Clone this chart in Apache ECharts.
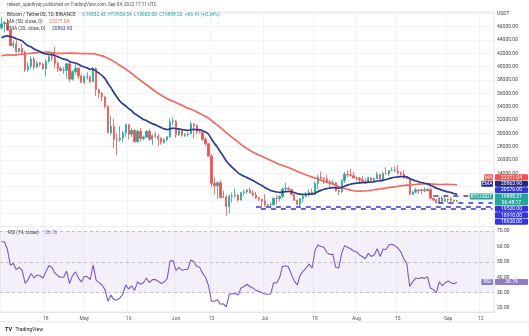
<!DOCTYPE html>
<html><head><meta charset="utf-8">
<script src="https://cdn.jsdelivr.net/npm/echarts@6/dist/echarts.min.js"></script>
<style>html,body{margin:0;padding:0;background:#fff}#c{width:529px;height:336px}</style>
</head><body><div id="c"></div>
<script>
const dates = [
'2022-04-03','2022-04-04','2022-04-05','2022-04-06','2022-04-07','2022-04-08','2022-04-09','2022-04-10','2022-04-11','2022-04-12','2022-04-13','2022-04-14','2022-04-15','2022-04-16','2022-04-17','2022-04-18','2022-04-19','2022-04-20','2022-04-21','2022-04-22','2022-04-23','2022-04-24','2022-04-25','2022-04-26','2022-04-27','2022-04-28','2022-04-29','2022-04-30',
'2022-05-01','2022-05-02','2022-05-03','2022-05-04','2022-05-05','2022-05-06','2022-05-07','2022-05-08','2022-05-09','2022-05-10','2022-05-11','2022-05-12','2022-05-13','2022-05-14','2022-05-15','2022-05-16','2022-05-17','2022-05-18','2022-05-19','2022-05-20','2022-05-21','2022-05-22','2022-05-23','2022-05-24','2022-05-25','2022-05-26','2022-05-27','2022-05-28','2022-05-29','2022-05-30','2022-05-31',
'2022-06-01','2022-06-02','2022-06-03','2022-06-04','2022-06-05','2022-06-06','2022-06-07','2022-06-08','2022-06-09','2022-06-10','2022-06-11','2022-06-12','2022-06-13','2022-06-14','2022-06-15','2022-06-16','2022-06-17','2022-06-18','2022-06-19','2022-06-20','2022-06-21','2022-06-22','2022-06-23','2022-06-24','2022-06-25','2022-06-26','2022-06-27','2022-06-28','2022-06-29','2022-06-30',
'2022-07-01','2022-07-02','2022-07-03','2022-07-04','2022-07-05','2022-07-06','2022-07-07','2022-07-08','2022-07-09','2022-07-10','2022-07-11','2022-07-12','2022-07-13','2022-07-14','2022-07-15','2022-07-16','2022-07-17','2022-07-18','2022-07-19','2022-07-20','2022-07-21','2022-07-22','2022-07-23','2022-07-24','2022-07-25','2022-07-26','2022-07-27','2022-07-28','2022-07-29','2022-07-30','2022-07-31',
'2022-08-01','2022-08-02','2022-08-03','2022-08-04','2022-08-05','2022-08-06','2022-08-07','2022-08-08','2022-08-09','2022-08-10','2022-08-11','2022-08-12','2022-08-13','2022-08-14','2022-08-15','2022-08-16','2022-08-17','2022-08-18','2022-08-19','2022-08-20','2022-08-21','2022-08-22','2022-08-23','2022-08-24','2022-08-25','2022-08-26','2022-08-27','2022-08-28','2022-08-29','2022-08-30','2022-08-31',
'2022-09-01','2022-09-02','2022-09-03','2022-09-04','2022-09-05','2022-09-06','2022-09-07','2022-09-08','2022-09-09','2022-09-10','2022-09-11','2022-09-12','2022-09-13','2022-09-14','2022-09-15','2022-09-16'];

const tickDates = ['2022-04-18','2022-05-01','2022-05-16','2022-06-01','2022-06-13','2022-07-01','2022-07-18','2022-08-01','2022-08-15','2022-09-01','2022-09-12'];
const tickTexts = ['18','May','16','Jun','13','Jul','18','Aug','15','Sep','12'];

const opens = [
45811,46407,46580,45497,43170,43444,42252,42753,42158,39530,40074,41147,39942,40551,40378,39678,40801,41493,41358,40480,39709,39441,39450,40426,38112,39235,39742,38596,
37630,38468,38525,37728,39690,36552,36013,35472,34039,30076,31017,29103,29029,29287,30075,31305,29862,30425,28715,30319,29201,29445,30293,29110,29655,29542,29201,28629,29031,29468,31734,
31802,29799,30467,29704,29833,29906,31371,31125,30205,30110,29091,28424,26574,22487,22136,22583,20401,20468,19017,20553,20599,20710,19987,21085,21231,21502,21027,20735,20280,20105,
19785,19269,19243,19297,20231,20191,20548,21637,21731,21592,20861,19970,19329,20212,20569,20836,21190,20779,22485,23389,23231,23164,22714,22465,22609,21361,21239,22930,23843,23774,23643,
23293,23269,22988,22818,22622,23312,22954,23175,23810,23149,23954,23934,24403,24441,24305,24094,23854,23342,23191,20834,21140,21516,21400,21529,21368,21560,20241,20037,19555,20285,19811,
20050,20131,19951,19832];
const closes = [
46407,46580,45497,43170,43444,42252,42753,42158,39530,40074,41147,39942,40551,40378,39678,40801,41493,41358,40480,39709,39441,39450,40426,38112,39235,39742,38596,37630,
38468,38525,37728,39690,36552,36013,35472,34039,30076,31017,29103,29029,29287,30075,31305,29862,30425,28715,30319,29201,29445,30293,29110,29655,29542,29201,28629,29031,29468,31734,31802,
29799,30467,29704,29833,29906,31371,31125,30205,30110,29091,28424,26574,22487,22136,22583,20401,20468,19017,20553,20599,20710,19987,21085,21231,21502,21027,20735,20280,20105,19785,
19269,19243,19297,20231,20191,20548,21637,21731,21592,20861,19970,19329,20212,20569,20836,21190,20779,22485,23389,23231,23164,22714,22465,22609,21361,21239,22930,23843,23774,23643,23293,
23269,22988,22818,22622,23312,22954,23175,23810,23149,23954,23934,24403,24441,24305,24094,23854,23342,23191,20834,21140,21516,21400,21529,21368,21560,20241,20037,19555,20285,19811,20050,
20131,19951,19832,19898];
const highs = [
47444,46890,47200,45507,43900,43970,42800,43410,42414,40699,41561,41500,40870,40709,40595,41116,41760,42199,42976,40795,39980,39940,40617,40797,39474,40372,39925,38795,
38675,39167,38651,39980,39845,36675,36146,35510,34243,32658,32162,30032,31083,30343,31460,31333,30788,30666,30545,30777,29656,30487,30670,29835,30223,29883,29397,29250,29531,32222,32399,
31982,30690,30699,29999,30168,31765,31557,31339,30700,30392,29440,28544,26895,23363,22800,22980,21365,20792,20815,21090,21723,20880,21200,21520,21614,21868,21520,21200,20432,20141,
20876,19400,19647,20354,20758,20675,21839,22527,21956,21607,20868,20059,20260,20900,21200,21588,21684,22777,23800,24276,23442,23757,22977,23014,22663,21561,23112,24200,24442,24668,24194,
23510,23466,23647,23225,23472,23354,23402,24245,23926,24226,24918,24456,24890,25047,25211,24247,24446,23600,23208,21382,21800,21548,21684,21900,21819,21886,20340,20150,20433,20580,20490,
20198,20445,20056,19957];
const lows = [
45530,45118,45353,43121,42727,42107,42125,41868,39200,39254,39588,39551,39766,39992,39546,38536,40571,40820,39751,39177,39285,38929,38200,37702,37881,38881,38175,37578,
37386,38052,37517,37670,35571,35258,34785,33713,30033,29730,27785,26700,28751,28630,29481,29087,29450,28654,28693,28730,28947,29255,28866,28260,29294,28019,28282,28450,28843,29299,31200,
29301,29594,29500,29454,29500,29879,29218,29843,29944,28850,28100,26560,21925,20846,20111,20232,20246,17622,17960,19637,20348,19770,19890,20711,20906,20960,20500,20164,19846,18626,
18975,18977,18781,19055,19304,19762,20240,21190,21348,20655,19880,19239,18910,19616,20383,20478,20750,20762,21582,22906,22341,22500,21934,22258,21250,20706,21042,22581,23414,23503,23227,
22850,22664,22681,22400,22585,22909,22844,23154,22885,22664,23852,23580,24291,24265,23773,23671,23180,23107,20783,20761,21069,20890,20890,21145,21310,20107,19800,19600,19530,19540,19800,
19565,19754,19652,19600];

const ema20 = [
44320,44540,44630,44490,44390,44190,44050,43870,43460,43140,42950,42660,42460,42260,42010,41900,41860,41810,41680,41500,41300,41130,41060,40780,40630,40550,40360,40100,
39950,39810,39610,39620,39330,39010,38670,38230,37460,36850,36110,35440,34850,34400,34100,33700,33390,32940,32690,32360,32080,31910,31640,31450,31270,31070,30840,30670,30550,30670,30770,
30680,30660,30570,30500,30440,30530,30590,30550,30510,30380,30190,29850,29150,28480,27920,27200,26560,25840,25340,24890,24490,24060,23780,23540,23350,23130,22900,22650,22410,22160,
21880,21630,21410,21300,21190,21130,21180,21230,21270,21230,21110,20940,20870,20840,20840,20870,20860,21020,21250,21440,21600,21710,21780,21860,21810,21760,21870,22060,22220,22360,22450,
22530,22570,22590,22600,22660,22690,22740,22840,22870,22970,23060,23190,23310,23400,23470,23500,23490,23460,23210,23010,22870,22730,22620,22500,22410,22200,22000,21770,21620,21450,21320,
21210,21090,20970,20864];
const ma50 = [
41620,41710,41770,41740,41730,41770,41820,41860,41890,41950,42010,42060,42100,42130,42140,42200,42170,42110,42040,41980,41990,41990,42030,42030,42040,42000,41980,41960,
41950,41970,41930,41940,41850,41750,41620,41460,41230,41030,40770,40490,40200,39910,39650,39310,38980,38600,38270,37940,37600,37290,36950,36610,36290,36010,35710,35450,35180,34980,34820,
34620,34400,34200,33980,33770,33610,33410,33190,32960,32740,32510,32250,31910,31550,31240,30860,30480,30080,29740,29380,29030,28670,28300,27990,27700,27420,27150,26950,26740,26550,
26350,26150,25940,25720,25520,25320,25180,25010,24860,24690,24480,24290,24100,23920,23750,23600,23440,23300,23130,22960,22830,22670,22530,22380,22210,22010,21840,21720,21590,21480,21380,
21310,21320,21340,21340,21390,21440,21530,21590,21640,21710,21790,21850,21920,21970,22030,22100,22160,22220,22240,22280,22320,22370,22390,22420,22440,22410,22370,22330,22320,22320,22330,
22330,22320,22300,22271];
const rsi14 = [
63,63,58,48,49,45,46.5,44.5,36,38.5,42.5,39.5,41.5,41,39.5,43.5,47.5,46.5,43,41,40,40,44,36,41,43.5,39.5,37,
40.5,40.5,38.5,48,38,36.5,35,32,24.5,28.5,25.5,25.3,26.5,29,35,32.5,34.5,31.5,37,35.5,36.5,39.5,36.5,38.5,38.5,37.5,36,37,39,50.5,50.8,
44.5,46.5,44.5,45,45.2,51.2,50.3,47,46.5,42.5,40,34.5,24.5,24.5,25.5,22.5,22.8,20.9,29,29.3,29.5,28.5,33,34,35.5,34,33,31.5,31,30,
29.2,29,29.3,36.5,36.3,39.5,47,47.5,46.8,42,37.5,35,41.5,44,46,48.5,46,57.5,61,60,59.5,56,54.8,55,46.5,46,55.5,60.5,59.5,58.5,57,
56.5,54.5,53.5,52,55.5,53.5,54.5,58.5,53.5,58.3,58,61,61.4,60.5,59,56.5,52,49,34,37,39.5,39,39.8,39.3,40.4,33,32,30,37,34.5,36.5,
37.6,36.5,35.8,36.76];

const levelPrices = [20576, 19520, 18910, 18626];
const levelStarts = ['2022-08-27', '2022-08-27', '2022-06-28', '2022-06-28'];
const levelOffsets = [0, 5, 0, 5];

const FONT = 'Roboto, "Liberation Sans", sans-serif';
const UP = '#26a69a', DOWN = '#ef5350', MA_C = '#ee6b61', EMA_C = '#2c3e8f', LVL_C = '#3434d8', RSI_C = '#7e57c2';
const tickSet = new Set(tickDates);
const tickFn = (i, v) => tickSet.has(v);

const chart = echarts.init(document.getElementById('c'), null, {renderer: 'canvas'});
const lastDate = dates[dates.length - 1];

const option = {
  animation: false,
  backgroundColor: '#ffffff',
  textStyle: {fontFamily: FONT},
  grid: [
    {left: 0, right: 35, top: 12, height: 214.6, show: true, borderColor: '#d6d9e0', borderWidth: 0.6},
    {left: 0, right: 35, top: 226.6, height: 85.4, show: true, borderColor: '#d6d9e0', borderWidth: 0.6}
  ],
  xAxis: [
    {type: 'category', gridIndex: 0, data: dates, boundaryGap: true,
     axisLine: {show: false}, axisTick: {show: false}, axisLabel: {show: false},
     splitLine: {show: true, interval: tickFn, lineStyle: {color: '#eef0f4', width: 0.8}}},
    {type: 'category', gridIndex: 1, data: dates, boundaryGap: true,
     axisLine: {show: true, lineStyle: {color: '#d6d9e0', width: 0.6}}, axisTick: {show: false},
     axisLabel: {show: true, interval: tickFn, formatter: v => tickTexts[tickDates.indexOf(v)], color: '#555', fontSize: 5, margin: 4, fontFamily: FONT},
     splitLine: {show: true, interval: tickFn, lineStyle: {color: '#eef0f4', width: 0.8}}}
  ],
  yAxis: [
    {type: 'value', gridIndex: 0, position: 'right', min: 16000, max: 48200, interval: 2000, scale: true,
     axisLine: {show: false}, axisTick: {show: false},
     axisLabel: {color: '#444', fontSize: 5, margin: 3, fontFamily: FONT, showMinLabel: false, showMaxLabel: false,
       formatter: v => v === 48000 ? 'USDT' : v.toFixed(2)},
     splitLine: {show: true, lineStyle: {color: '#eef0f4', width: 0.8}}},
    {type: 'value', gridIndex: 1, position: 'right', min: 17.5, max: 72.85, splitNumber: 5,
     axisLine: {show: false}, axisTick: {show: false},
     axisLabel: {color: '#444', fontSize: 5, margin: 3, fontFamily: FONT, showMinLabel: false, showMaxLabel: false,
       formatter: v => (Math.abs(v % 10) < 1e-6 ? v.toFixed(2) : '')},
     splitLine: {show: false}}
  ],
  series: [
    {type: 'candlestick', xAxisIndex: 0, yAxisIndex: 0, barWidth: 1.8,
     data: opens.map((o, i) => [o, closes[i], lows[i], highs[i]]),
     itemStyle: {color: UP, color0: DOWN, borderColor: UP, borderColor0: DOWN, borderWidth: 0.8},
     markLine: {silent: true, symbol: 'none', animation: false, label: {show: false},
       data: levelPrices.map((p, i) => [
         {coord: [levelStarts[i], p], lineStyle: {color: LVL_C, width: 1.6, type: [5, 5], dashOffset: levelOffsets[i]}},
         {coord: [lastDate, p]}
       ])}},
    {type: 'line', name: 'MA', xAxisIndex: 0, yAxisIndex: 0, data: ma50, symbol: 'none', smooth: 0.2,
     lineStyle: {color: MA_C, width: 1.7}, z: 3},
    {type: 'line', name: 'EMA', xAxisIndex: 0, yAxisIndex: 0, data: ema20, symbol: 'none', smooth: 0.2,
     lineStyle: {color: EMA_C, width: 1.7}, z: 4},
    {type: 'line', name: 'RSI', xAxisIndex: 1, yAxisIndex: 1, data: rsi14, symbol: 'none',
     lineStyle: {color: RSI_C, width: 1.1},
     markArea: {silent: true, itemStyle: {color: 'rgba(126,87,194,0.09)'}, data: [[{yAxis: 70}, {yAxis: 30}]]},
     markLine: {silent: true, symbol: 'none', label: {show: false},
       lineStyle: {color: '#a5a8b3', width: 0.7, type: [3, 3]},
       data: [{yAxis: 70}, {yAxis: 50}, {yAxis: 30}]}}
  ]
};
chart.setOption(option);

// price tags on the right scale
const tagDefs = [
  {name: 'MA', value: '22271.04', price: 22271.04, color: '#ef5350'},
  {name: 'EMA', value: '20863.90', price: 20863.90, color: '#1f2a78'},
  {value: '20576.00', price: 20576, color: LVL_C},
  {name: 'BTCUSDT', value: '19898.31', sub: '06:48:17', price: 19898.31, color: UP},
  {value: '19520.00', price: 19520, color: LVL_C},
  {value: '18910.00', price: 18910, color: LVL_C},
  {value: '18626.00', price: 18626, color: LVL_C}
];
const items = tagDefs.map(t => ({t, c: chart.convertToPixel({yAxisIndex: 0}, t.price), h: t.sub ? 12.4 : 6.4, off: 3.2}));
items.sort((a, b) => a.c - b.c);
let blocks = [];
for (const it of items) {
  blocks.push({items: [it], h: it.h, top: it.c - it.off});
  while (blocks.length > 1) {
    const p = blocks[blocks.length - 2], q = blocks[blocks.length - 1];
    if (p.top + p.h > q.top) {
      const m = {items: p.items.concat(q.items), h: p.h + q.h};
      let acc = 0, o = 0;
      for (const x of m.items) { acc += x.c - (o + x.off); o += x.h; }
      m.top = acc / m.items.length;
      blocks.splice(-2, 2, m);
    } else break;
  }
}
for (const b of blocks) { let o = b.top; for (const x of b.items) { x.top = o; o += x.h; } }

const gfx = [];
const AX = 495;
function addTag(top, h, color, value, sub, name) {
  gfx.push({type: 'rect', shape: {x: AX, y: top, width: 33, height: h - 0.5, r: 0.8}, style: {fill: color}, z: 100});
  gfx.push({type: 'text', x: AX + 16.5, y: top + 3.1, style: {text: value, fill: '#fff', fontSize: 5, fontFamily: FONT, align: 'center', verticalAlign: 'middle'}, z: 101});
  if (sub) gfx.push({type: 'text', x: AX + 16.5, y: top + 9.1, style: {text: sub, fill: '#fff', fontSize: 5, fontFamily: FONT, align: 'center', verticalAlign: 'middle'}, z: 101});
  if (name) {
    const w = name.length * 2.9 + 3;
    gfx.push({type: 'rect', shape: {x: AX - 2 - w, y: top, width: w, height: 5.9, r: 0.8}, style: {fill: color}, z: 100});
    gfx.push({type: 'text', x: AX - 2 - w / 2, y: top + 3.1, style: {text: name, fill: '#fff', fontSize: 5, fontFamily: FONT, align: 'center', verticalAlign: 'middle'}, z: 101});
  }
}
for (const it of items) addTag(it.top, it.h, it.t.color, it.t.value, it.t.sub, it.t.name);
const rsiY = chart.convertToPixel({yAxisIndex: 1}, rsi14[rsi14.length - 1]);
addTag(rsiY - 3.2, 6.4, '#8e7cc3', '36.76', null, 'RSI');

// header texts
gfx.push({type: 'text', x: 7, y: 4.5, style: {text: 'rakesh_upadhyay published on TradingView.com, Sep 04, 2022 17:11 UTC', fill: '#555', fontSize: 4.6, fontFamily: FONT, verticalAlign: 'middle'}, z: 50});
gfx.push({type: 'text', x: 7, y: 15, style: {
  text: '{a|Bitcoin / TetherUS, 1D, BINANCE}  {b|O19832.43  H19956.54  L19600.00  C19898.32  +66.41 (+0.34%)}',
  rich: {a: {fill: '#333', fontSize: 4.8, fontFamily: FONT}, b: {fill: UP, fontSize: 4.8, fontFamily: FONT}},
  verticalAlign: 'middle'}, z: 50});
gfx.push({type: 'text', x: 7, y: 21.8, style: {
  text: '{a|MA (50, close, 0)}  {b|22271.04}', rich: {a: {fill: '#444', fontSize: 4.8, fontFamily: FONT}, b: {fill: MA_C, fontSize: 4.8, fontFamily: FONT}},
  verticalAlign: 'middle'}, z: 50});
gfx.push({type: 'text', x: 7, y: 28.4, style: {
  text: '{a|EMA (20, close, 0)}  {b|20863.90}', rich: {a: {fill: '#444', fontSize: 4.8, fontFamily: FONT}, b: {fill: EMA_C, fontSize: 4.8, fontFamily: FONT}},
  verticalAlign: 'middle'}, z: 50});
gfx.push({type: 'text', x: 8, y: 233, style: {
  text: '{a|RSI (14, close)}  {b|36.76}', rich: {a: {fill: '#444', fontSize: 4.8, fontFamily: FONT}, b: {fill: RSI_C, fontSize: 4.8, fontFamily: FONT}},
  verticalAlign: 'middle'}, z: 50});
// bottom frame line and logo
gfx.push({type: 'line', shape: {x1: 0, y1: 322, x2: 529, y2: 322}, style: {stroke: '#d6d9e0', lineWidth: 0.6}, z: 50});
gfx.push({type: 'text', x: 5, y: 330, style: {
  text: '{l|TV} {a|TradingView}', rich: {l: {fill: '#131722', fontSize: 5.5, fontWeight: 'bold', fontFamily: FONT}, a: {fill: '#131722', fontSize: 5, fontFamily: FONT}},
  verticalAlign: 'middle'}, z: 50});

chart.setOption({graphic: {elements: gfx}});
</script>
</body></html>
